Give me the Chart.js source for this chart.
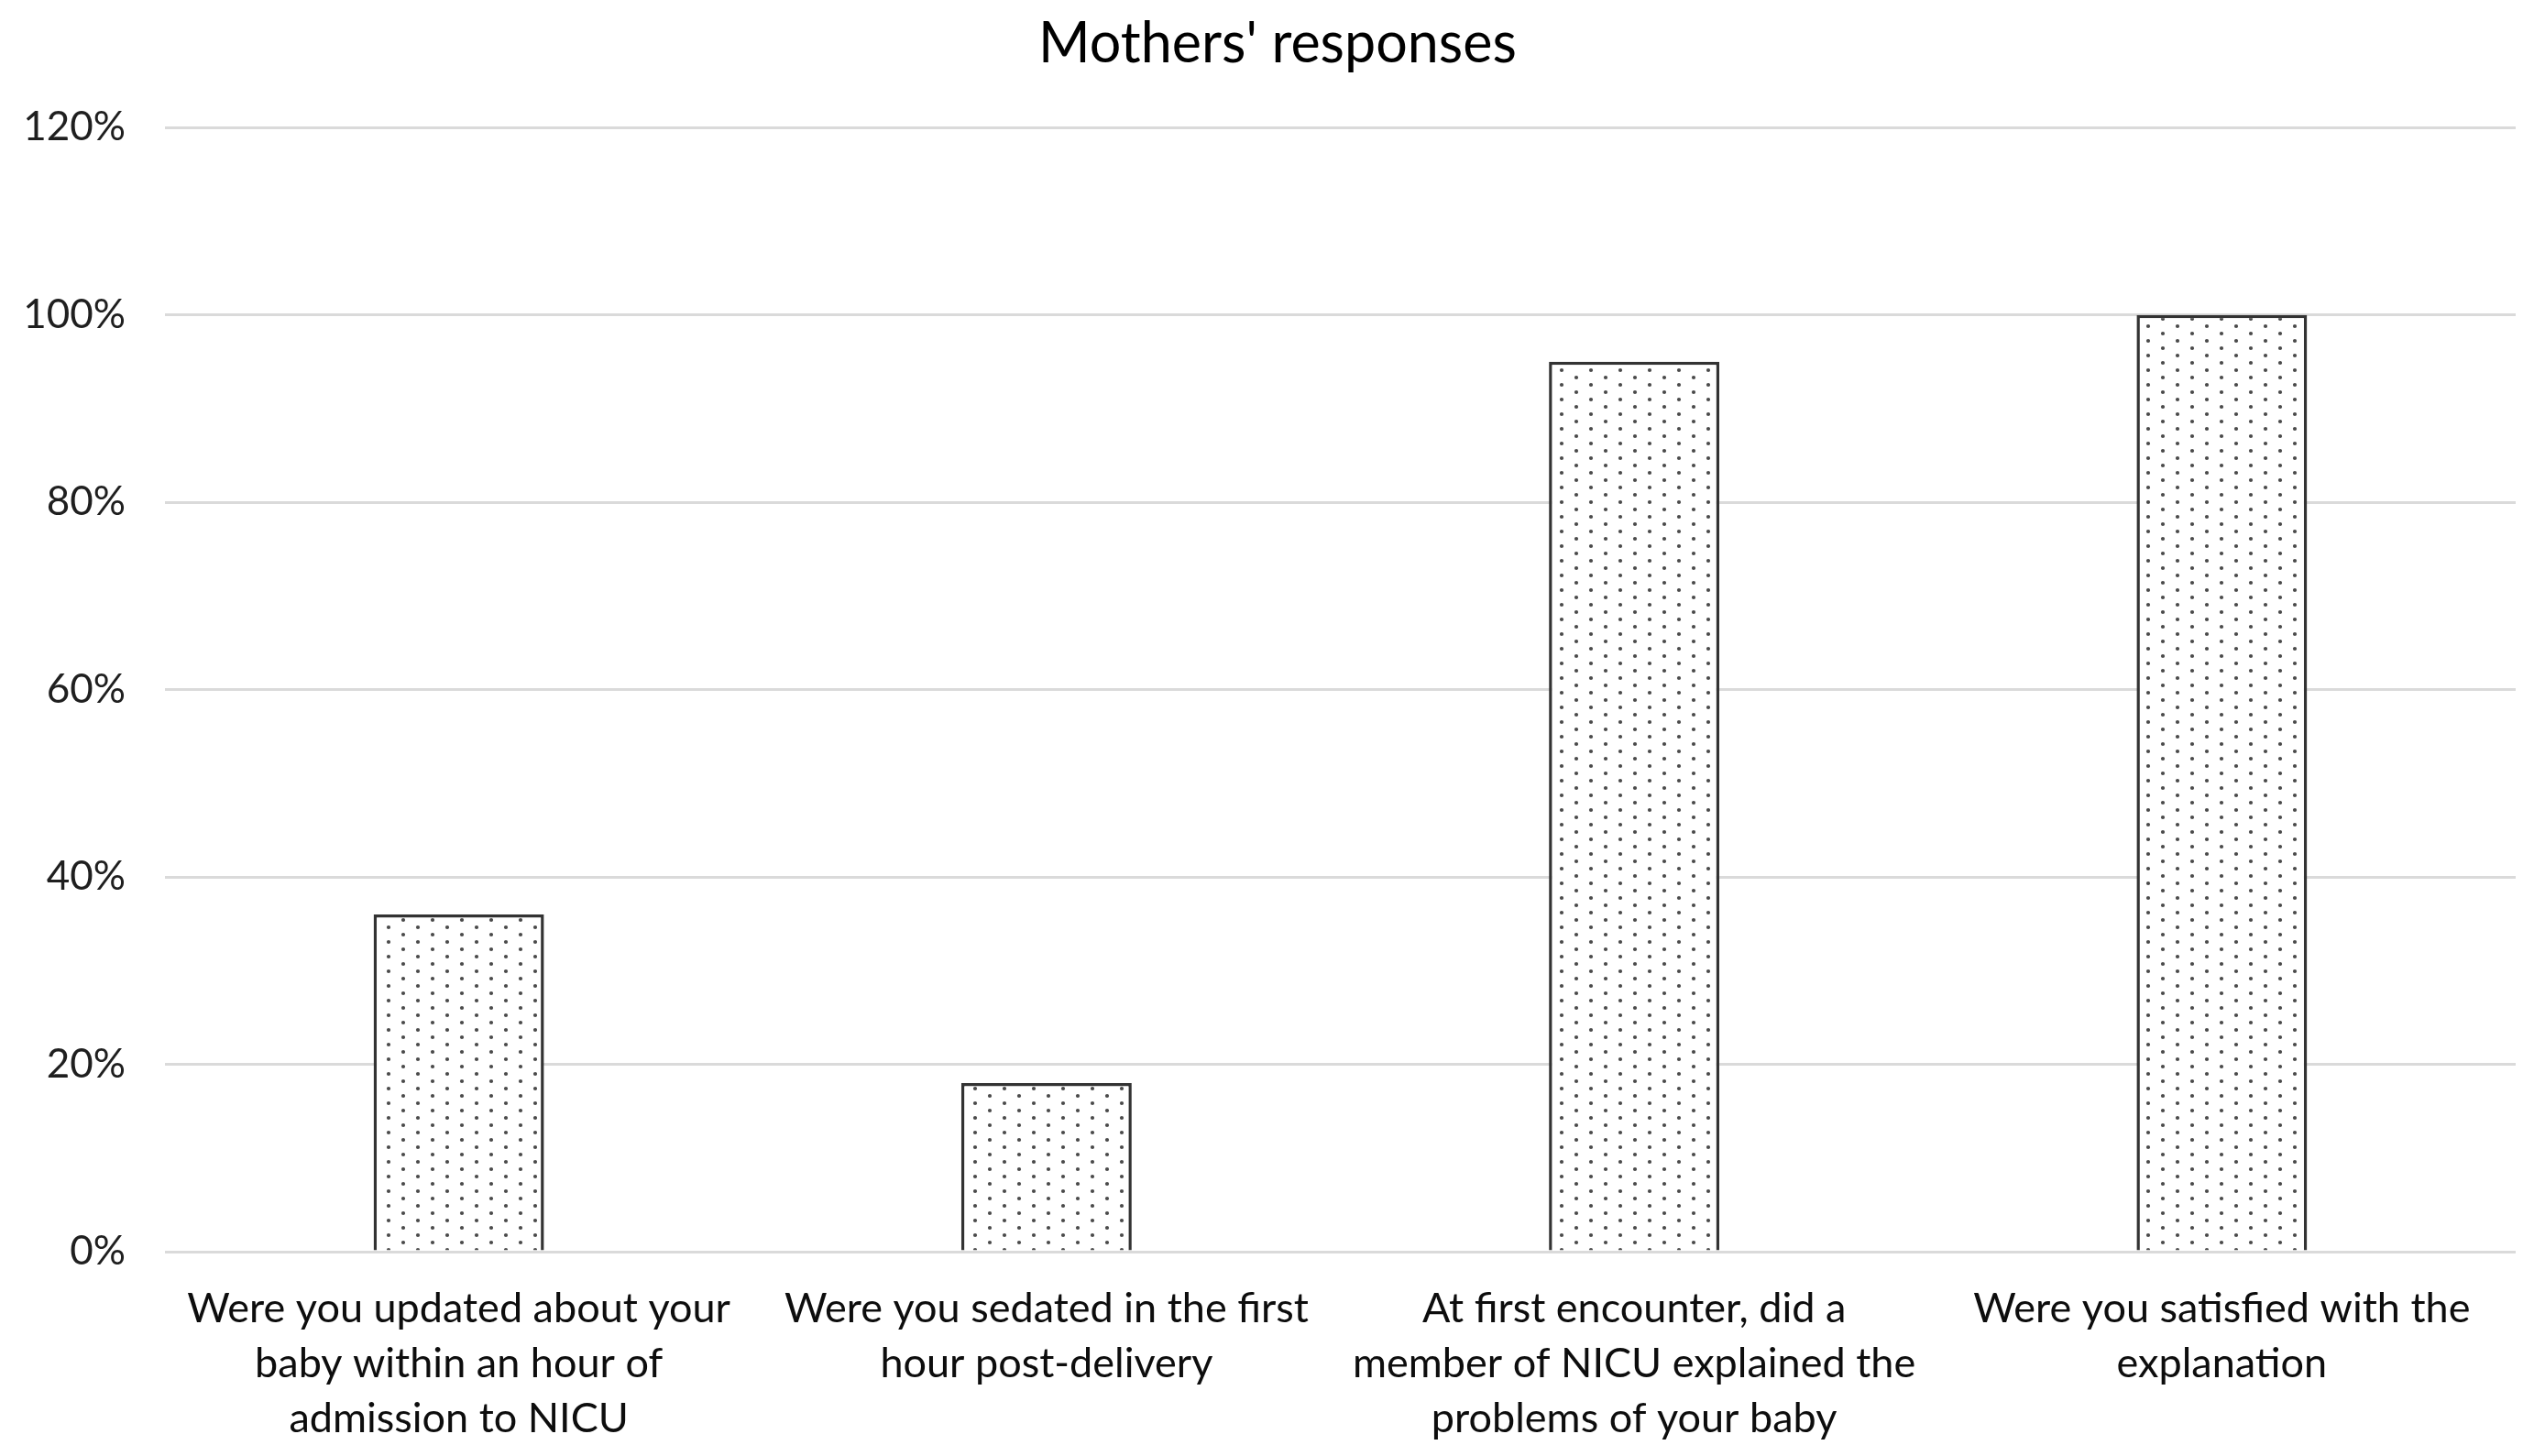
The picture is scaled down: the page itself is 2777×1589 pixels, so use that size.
<!DOCTYPE html>
<html>
<head>
<meta charset="utf-8">
<title>Mothers' responses</title>
<script src="https://cdn.jsdelivr.net/npm/chart.js@4.4.1/dist/chart.umd.min.js"></script>
<style>
    html, body { margin: 0; padding: 0; background: #fff; }
    #wrap { width: 2777px; height: 1589px; position: relative; }
</style>
</head>
<body>
<div id="wrap"><canvas id="chart"></canvas></div>
<script>
// values (percent of mothers answering yes)
const questions = [
    ['Were you updated about your', 'baby within an hour of', 'admission to NICU'],
    ['Were you sedated in the first', 'hour post-delivery'],
    ['At first encounter, did a', 'member of NICU explained the', 'problems of your baby'],
    ['Were you satisfied with the', 'explanation'],
]
const responses = [36, 18, 95, 100]
const yTicks = [0, 20, 40, 60, 80, 100, 120]

const FONT = 'Lato, "Open Sans", sans-serif'

// dotted fill like the original bars
function dotPattern() {
    const tile = document.createElement('canvas')
    tile.width = 32
    tile.height = 16
    const ctx = tile.getContext('2d')
    ctx.fillStyle = '#ffffff'
    ctx.fillRect(0, 0, 32, 16)
    ctx.fillStyle = '#4a4a4a'
    for (const [x, y] of [[8, 4], [24, 12]]) {
        ctx.beginPath()
        ctx.arc(x, y, 2.1, 0, Math.PI * 2)
        ctx.fill()
    }
    return document.getElementById('chart').getContext('2d').createPattern(tile, 'repeat')
}

// the original title sits a little right of the canvas centre
const shiftTitle = {
    id: 'shiftTitle',
    afterLayout(chart) {
        if (chart.titleBlock) chart.titleBlock.left = 43
    }
}

new Chart(document.getElementById('chart'), {
    type: 'bar',
    plugins: [shiftTitle],
    data: {
        labels: questions,
        datasets: [{
            data: responses,
            backgroundColor: dotPattern(),
            borderColor: '#333333',
            borderWidth: 3.5,
            borderSkipped: 'start',
            categoryPercentage: 1,
            barPercentage: 0.29,
        }]
    },
    options: {
        responsive: true,
        maintainAspectRatio: false,
        animation: false,
        layout: { padding: { left: 0, right: 32, top: 0, bottom: 0 } },
        plugins: {
            legend: { display: false },
            tooltip: { enabled: false },
            title: {
                display: true,
                text: "Mothers' responses",
                color: '#000',
                font: { family: FONT, size: 61, weight: 'normal', lineHeight: 1.2 },
                padding: { top: 12, bottom: 54 },
            },
        },
        scales: {
            x: {
                grid: { display: false },
                border: { display: false },
                ticks: {
                    color: '#0d0d0d',
                    padding: 24,
                    maxRotation: 0,
                    autoSkip: false,
                    font: { family: FONT, size: 45, lineHeight: '60px' },
                },
                afterFit: scale => { scale.height = 223 },
            },
            y: {
                min: 0,
                max: 120,
                afterBuildTicks: scale => { scale.ticks = yTicks.map(v => ({ value: v })) },
                grid: { color: '#dadada', lineWidth: 3, drawTicks: false },
                border: { display: false },
                ticks: {
                    color: '#1f1f1f',
                    padding: 43,
                    font: { family: FONT, size: 44 },
                    callback: v => v + '%',
                },
                afterFit: scale => { scale.width = 180 },
            },
        },
    },
})
</script>
</body>
</html>
